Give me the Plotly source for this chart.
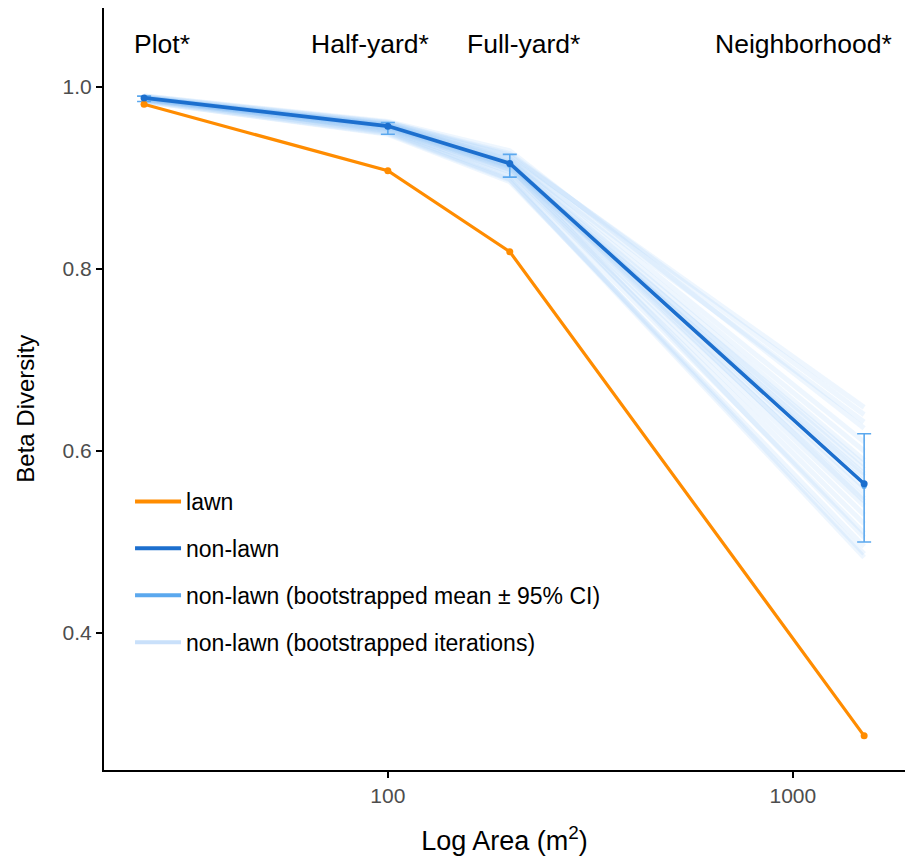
import plotly.graph_objects as go

# ---------------- data ----------------
area = [25, 100, 200, 1500]
scale_labels = ["Plot*", "Half-yard*", "Full-yard*", "Neighborhood*"]

lawn = [0.981, 0.908, 0.819, 0.287]
nonlawn = [0.988, 0.957, 0.916, 0.564]

boot_mean = [0.987, 0.956, 0.914, 0.561]
boot_hi = [0.990, 0.961, 0.926, 0.619]
boot_lo = [0.984, 0.948, 0.901, 0.500]

# bootstrapped iterations (values read approximately from the band)
iter_1 = [0.987, 0.957, 0.916, 0.566]
iter_2 = [0.989, 0.961, 0.927, 0.640]
iter_3 = [0.985, 0.950, 0.899, 0.487]
iter_4 = [0.988, 0.959, 0.920, 0.600]
iter_5 = [0.986, 0.953, 0.905, 0.520]
iter_6 = [0.990, 0.962, 0.930, 0.625]
iter_7 = [0.984, 0.948, 0.896, 0.495]
iter_8 = [0.987, 0.956, 0.913, 0.555]
iter_9 = [0.988, 0.958, 0.918, 0.580]
iter_10 = [0.986, 0.954, 0.909, 0.540]
iter_11 = [0.989, 0.960, 0.924, 0.610]
iter_12 = [0.985, 0.951, 0.902, 0.510]
iter_13 = [0.987, 0.957, 0.915, 0.572]
iter_14 = [0.988, 0.955, 0.911, 0.548]
iter_15 = [0.986, 0.958, 0.919, 0.590]
iter_16 = [0.989, 0.952, 0.907, 0.530]
iter_17 = [0.987, 0.959, 0.921, 0.632]
iter_18 = [0.986, 0.955, 0.912, 0.505]
iter_19 = [0.988, 0.956, 0.914, 0.560]
iter_20 = [0.987, 0.954, 0.910, 0.575]
iter_21 = [0.990, 0.961, 0.925, 0.648]
iter_22 = [0.984, 0.949, 0.898, 0.483]
iter_23 = [0.987, 0.957, 0.917, 0.545]
iter_24 = [0.988, 0.958, 0.913, 0.585]
iterations = [iter_1, iter_2, iter_3, iter_4, iter_5, iter_6, iter_7, iter_8,
              iter_9, iter_10, iter_11, iter_12, iter_13, iter_14, iter_15, iter_16,
              iter_17, iter_18, iter_19, iter_20, iter_21, iter_22, iter_23, iter_24]

label_pos = [0.072, 0.332, 0.524, 0.873]

# ---------------- colours ----------------
c_lawn = "#FF8C00"
c_non = "#1C6FCE"
c_ci = "#5BA8EE"
c_iter = "rgba(150,197,247,0.16)"
c_iter_leg = "#C9E0FA"

FONT = "Liberation Sans, Arial, Helvetica, sans-serif"

fig = go.Figure()

# iterations
for i, it in enumerate(iterations):
    fig.add_trace(go.Scatter(
        x=area, y=it, mode="lines",
        line=dict(color=c_iter, width=5),
        legendgroup="iter", showlegend=False, hoverinfo="skip"))
fig.add_trace(go.Scatter(
    x=[None], y=[None], mode="lines",
    line=dict(color=c_iter_leg, width=4),
    name="non-lawn (bootstrapped iterations)", legendgroup="iter", legendrank=4))

# bootstrapped mean ± CI
fig.add_trace(go.Scatter(
    x=area, y=boot_mean, mode="markers",
    marker=dict(color=c_ci, size=5),
    error_y=dict(type="data", symmetric=False,
                 array=[h - m for h, m in zip(boot_hi, boot_mean)],
                 arrayminus=[m - l for l, m in zip(boot_lo, boot_mean)],
                 color=c_ci, thickness=1.6, width=7),
    showlegend=False, legendgroup="ci"))
fig.add_trace(go.Scatter(
    x=[None], y=[None], mode="lines",
    line=dict(color=c_ci, width=4),
    name="non-lawn (bootstrapped mean ± 95% CI)", legendgroup="ci", legendrank=3))

# lawn
fig.add_trace(go.Scatter(
    x=area, y=lawn, mode="lines+markers",
    line=dict(color=c_lawn, width=3.2),
    marker=dict(color=c_lawn, size=7),
    showlegend=False, legendgroup="lawn"))
fig.add_trace(go.Scatter(
    x=[None], y=[None], mode="lines",
    line=dict(color=c_lawn, width=4),
    name="lawn", legendgroup="lawn", legendrank=1))

# non-lawn
fig.add_trace(go.Scatter(
    x=area, y=nonlawn, mode="lines+markers",
    line=dict(color=c_non, width=3.6),
    marker=dict(color=c_non, size=7),
    showlegend=False, legendgroup="non"))
fig.add_trace(go.Scatter(
    x=[None], y=[None], mode="lines",
    line=dict(color=c_non, width=4),
    name="non-lawn", legendgroup="non", legendrank=2))

for lab, px in zip(scale_labels, label_pos):
    fig.add_annotation(text=lab, x=px, y=0.953, xref="paper", yref="paper",
                       showarrow=False, xanchor="center", yanchor="middle",
                       font=dict(family=FONT, size=26.5, color="black"))

# y-axis title (placed as in the reference)
fig.add_annotation(text="Beta Diversity", x=-0.0975, y=0.474, xref="paper", yref="paper",
                   showarrow=False, textangle=-90, xanchor="center", yanchor="middle",
                   font=dict(family=FONT, size=24, color="black"))

fig.update_layout(
    width=905, height=861,
    margin=dict(l=104, r=0, t=8, b=91),
    paper_bgcolor="white", plot_bgcolor="white",
    font=dict(family=FONT),
    showlegend=True,
    legend=dict(x=0.0325, y=0.3806, xanchor="left", yanchor="top",
                bgcolor="rgba(0,0,0,0)", traceorder="grouped",
                tracegroupgap=14, itemwidth=46,
                font=dict(family=FONT, size=23, color="black")),
    xaxis=dict(type="log", range=[1.299, 3.277],
               tickvals=[100, 1000], ticktext=["100", "1000"],
               showline=True, linecolor="black", linewidth=2,
               ticks="outside", ticklen=6, tickwidth=2, tickcolor="black",
               showgrid=False, zeroline=False,
               tickfont=dict(family=FONT, size=21, color="#4D4D4D"),
               title=dict(text="Log Area (m<sup>2</sup>)", standoff=25,
                          font=dict(family=FONT, size=27, color="black"))),
    yaxis=dict(range=[0.2495, 1.0868],
               tickvals=[0.4, 0.6, 0.8, 1.0], ticktext=["0.4", "0.6", "0.8", "1.0"],
               showline=True, linecolor="black", linewidth=2,
               ticks="outside", ticklen=6, tickwidth=2, tickcolor="black",
               showgrid=False, zeroline=False,
               tickfont=dict(family=FONT, size=21, color="#4D4D4D")),
)

fig.write_html("out.html")
